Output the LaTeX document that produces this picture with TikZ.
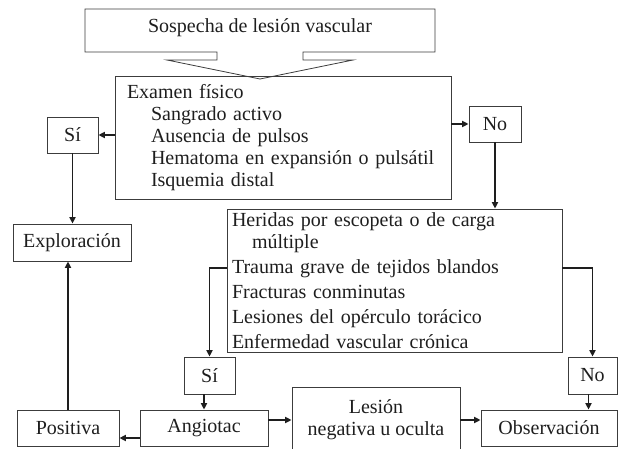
\documentclass[tikz,border=0pt]{standalone}
\usepackage{fontspec}
\setmainfont{Liberation Serif}
\usepackage{xcolor}
\usepackage{tikz}
\usetikzlibrary{arrows.meta, positioning, calc}
\definecolor{mydark}{RGB}{30,30,30}
\definecolor{mygray}{RGB}{60,60,60}
\tikzset{
  block/.style={rectangle, draw=mygray, line width=0.8pt, align=center, inner sep=0pt,
    font=\fontsize{20}{22}\selectfont, text=mydark},
  listblock/.style={rectangle, draw=mygray, line width=0.8pt, align=left,
    font=\fontsize{20}{22}\selectfont, text=mydark},
  arrow/.style={-{Triangle[length=6.5pt, width=6pt]}, line width=1.8pt, color=mydark},
  line/.style={line width=1.8pt, color=mydark}
}

\begin{document}
\begin{tikzpicture}[x=1pt, y=-1pt]
  \useasboundingbox (0,0) rectangle (618,449);
  % Top box with its arrow-shaped bottom
  \draw[mygray, line width=0.8pt] (217,52) -- (85,52) -- (85,9) -- (435,9) -- (435,52) -- (303,52)
    -- (303,60) -- (353,60) -- (260,79) -- (167,60) -- (217,60) -- cycle;
  \node[font=\fontsize{20}{22}\selectfont, text=mydark] (sospecha) at (260,28) {Sospecha de lesión vascular};

  \node[listblock, text width=312pt, inner xsep=12pt, minimum height=123pt] (examen) at (283,137.5)
    {Examen físico\\
     \hspace*{24pt}Sangrado activo\\
     \hspace*{24pt}Ausencia de pulsos\\
     \hspace*{24pt}Hematoma en expansión o pulsátil\\
     \hspace*{24pt}Isquemia distal};
  \node[block, minimum width=51pt, minimum height=36pt] (si1) at (72.5,135) {Sí};
  \node[block, minimum width=52pt, minimum height=36pt] (no1) at (495,124) {No};
  \node[block, minimum width=118pt, minimum height=37pt] (explor) at (72,242.5) {Exploración};

  \node[listblock, text width=325pt, inner xsep=5pt, minimum height=143pt] (heridas) at (394.5,280.5)
    {Heridas por escopeta o de carga\\
     \hspace*{20pt}múltiple\\[3pt]
     Trauma grave de tejidos blandos\\[3pt]
     Fracturas conminutas\\[3pt]
     Lesiones del opérculo torácico\\[3pt]
     Enfermedad vascular crónica};
  \node[block, minimum width=51pt, minimum height=37pt] (si2) at (209.5,375.5) {Sí};
  \node[block, minimum width=49pt, minimum height=37pt] (no2) at (592.5,375.5) {No};

  \node[block, minimum width=102pt, minimum height=36pt] (positiva) at (68,428) {Positiva};
  \node[block, minimum width=128pt, minimum height=36pt] (angiotac) at (204,428) {Angiotac};
  \node[block, minimum width=168pt, minimum height=66pt] (lesion) at (376,420) {Lesión\\negativa u oculta};
  \node[block, minimum width=136pt, minimum height=36pt] (observ) at (549,428) {Observación};

  % Connectors
  \draw[arrow] (examen.west |- si1.east) -- (si1.east);
  \draw[arrow] (si1.south) -- (si1.south |- explor.north);
  \draw[arrow] (examen.east |- no1.west) -- (no1.west);
  \draw[arrow] (no1.south) -- (no1.south |- heridas.north);
  \draw[arrow] ([yshift=12.5]heridas.west) -| (si2.north);
  \draw[arrow] ([yshift=12.5]heridas.east) -| (no2.north);
  \draw[arrow] ([xshift=-4]no2.south) -- ([xshift=-4]no2.south |- observ.north);
  \draw[arrow] (angiotac.north |- si2.south) -- (angiotac.north);
  \draw[arrow] ([yshift=-10]angiotac.west) -- ([yshift=-10]positiva.east);
  \draw[arrow] (angiotac.east |- lesion.west) -- (lesion.west);
  \draw[arrow] (lesion.east) -- (lesion.east -| observ.west);
  \draw[arrow] (positiva.north) -- (positiva.north |- explor.south);
\end{tikzpicture}
\end{document}
